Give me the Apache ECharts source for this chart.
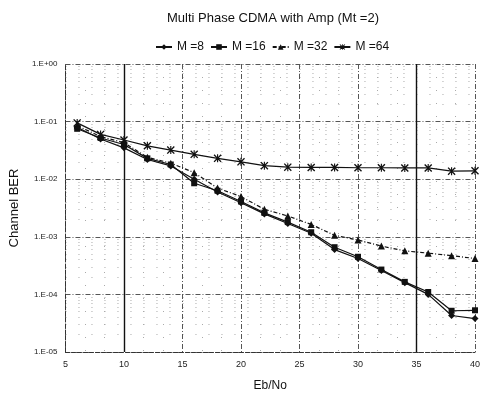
<!DOCTYPE html>
<html>
<head>
<meta charset="utf-8">
<script src="https://cdn.jsdelivr.net/npm/echarts@6/dist/echarts.min.js"></script>
<style>
  html, body { margin: 0; padding: 0; background: #fff; }
  #chart { width: 483px; height: 397px; }
</style>
</head>
<body>
<div id="chart"></div>
<script>
// Eb/No sample points (dB)
const ebNo = [6, 8, 10, 12, 14, 16, 18, 20, 22, 24, 26, 28, 30, 32, 34, 36, 38, 40];

// Channel BER per number of phases M
const berM8  = [8.0e-2, 5.0e-2, 3.5e-2, 2.2e-2, 1.7e-2, 1.0e-2, 6.0e-3, 3.9e-3, 2.5e-3, 1.7e-3, 1.15e-3, 6.0e-4, 4.2e-4, 2.6e-4, 1.6e-4, 1.0e-4, 4.3e-5, 3.8e-5];
const berM16 = [7.5e-2, 5.2e-2, 4.0e-2, 2.3e-2, 1.8e-2, 8.5e-3, 6.3e-3, 4.1e-3, 2.6e-3, 1.8e-3, 1.2e-3, 6.6e-4, 4.5e-4, 2.7e-4, 1.65e-4, 1.1e-4, 5.2e-5, 5.3e-5];
const berM32 = [8.5e-2, 5.5e-2, 4.3e-2, 2.4e-2, 1.9e-2, 1.3e-2, 7.0e-3, 5.0e-3, 3.0e-3, 2.3e-3, 1.64e-3, 1.06e-3, 8.8e-4, 6.9e-4, 5.7e-4, 5.2e-4, 4.7e-4, 4.2e-4];
const berM64 = [9.5e-2, 6.0e-2, 4.8e-2, 3.8e-2, 3.2e-2, 2.7e-2, 2.3e-2, 2.0e-2, 1.72e-2, 1.62e-2, 1.6e-2, 1.6e-2, 1.58e-2, 1.58e-2, 1.57e-2, 1.57e-2, 1.38e-2, 1.4e-2];

const seriesNames = ['M =8', 'M =16', 'M =32', 'M =64'];
const seriesValues = [berM8, berM16, berM32, berM64];
// asterisk drawn as a filled outline so it also shows in the legend
const ASTERISK = 'path://M0,1.2L1.2,0L5,3.8L8.8,0L10,1.2L6.2,5L10,8.8L8.8,10L5,6.2L1.2,10L0,8.8L3.8,5Z' +
                 'M4.3,0L5.7,0L5.7,10L4.3,10Z';
const seriesSymbols = ['diamond', 'rect', 'triangle', ASTERISK];
const seriesSymbolSizes = [7, 6, 7, 8];
const seriesLineTypes = ['solid', 'solid', [4, 2, 1, 2], 'solid'];

const FONT = '"Liberation Sans", Arial, sans-serif';

function sciLabel(v) {
  const e = Math.round(Math.log10(v));
  const sign = e < 0 ? '-' : '+';
  const a = Math.abs(e);
  return '1.E' + sign + (a < 10 ? '0' : '') + a;
}

const chart = echarts.init(document.getElementById('chart'), null, { renderer: 'canvas' });

const series = seriesNames.map((name, i) => ({
  name: name,
  type: 'line',
  data: ebNo.map((x, k) => [x, seriesValues[i][k]]),
  symbol: seriesSymbols[i],
  symbolSize: seriesSymbolSizes[i],
  showAllSymbol: true,
  lineStyle: { color: '#111', width: 1.2, type: seriesLineTypes[i] },
  itemStyle: { color: '#111', borderWidth: 0 },
  emphasis: { disabled: true },
  animation: false,
  z: 3
}));

// heavy vertical rules at 10 and 35
series[0].markLine = {
  silent: true,
  symbol: 'none',
  label: { show: false },
  lineStyle: { color: '#111', type: 'solid', width: 1.4 },
  data: [{ xAxis: 10 }, { xAxis: 35 }]
};

chart.setOption({
  animation: false,
  backgroundColor: '#fff',
  title: {
    text: 'Multi Phase CDMA with Amp (Mt =2)',
    left: 268,
    textAlign: 'center',
    top: 7,
    textStyle: { fontFamily: FONT, fontSize: 13, fontWeight: 'normal', color: '#111' }
  },
  legend: {
    data: seriesNames,
    top: 36,
    left: 150,
    itemGap: 6,
    itemWidth: 16,
    itemHeight: 7,
    textStyle: { fontFamily: FONT, fontSize: 12, color: '#111' }
  },
  grid: { left: 64, right: 6, top: 64, bottom: 44, containLabel: false },
  xAxis: {
    type: 'value',
    min: 5,
    max: 40,
    interval: 5,
    name: 'Eb/No',
    nameLocation: 'middle',
    nameGap: 28,
    nameTextStyle: { fontFamily: FONT, fontSize: 12, color: '#111' },
    axisLine: { show: true, lineStyle: { color: '#333', width: 1, type: 'dashed' } },
    axisTick: { show: false },
    axisLabel: { fontFamily: FONT, fontSize: 9, color: '#222', margin: 8 },
    splitLine: { show: true, lineStyle: { color: '#555', width: 1, type: [5, 2, 1, 2] } },
    minorTick: { show: false, splitNumber: 3 },
    minorSplitLine: { show: true, lineStyle: { color: '#aaa', width: 1, type: [1, 12] } }
  },
  yAxis: {
    type: 'log',
    logBase: 10,
    min: 1e-5,
    max: 1,
    name: 'Channel BER',
    nameLocation: 'middle',
    nameGap: 32,
    nameTextStyle: { fontFamily: FONT, fontSize: 13, color: '#111' },
    axisLine: { show: true, lineStyle: { color: '#333', width: 1, type: 'dashed' } },
    axisTick: { show: false },
    axisLabel: { fontFamily: FONT, fontSize: 8, color: '#222', margin: 8, formatter: sciLabel },
    splitLine: { show: true, lineStyle: { color: '#555', width: 1, type: [5, 2, 1, 2] } },
    minorTick: { show: false, splitNumber: 9 },
    minorSplitLine: { show: true, lineStyle: { color: '#aaa', width: 1, type: [1, 12] } }
  },
  series: series
});
</script>
</body>
</html>
